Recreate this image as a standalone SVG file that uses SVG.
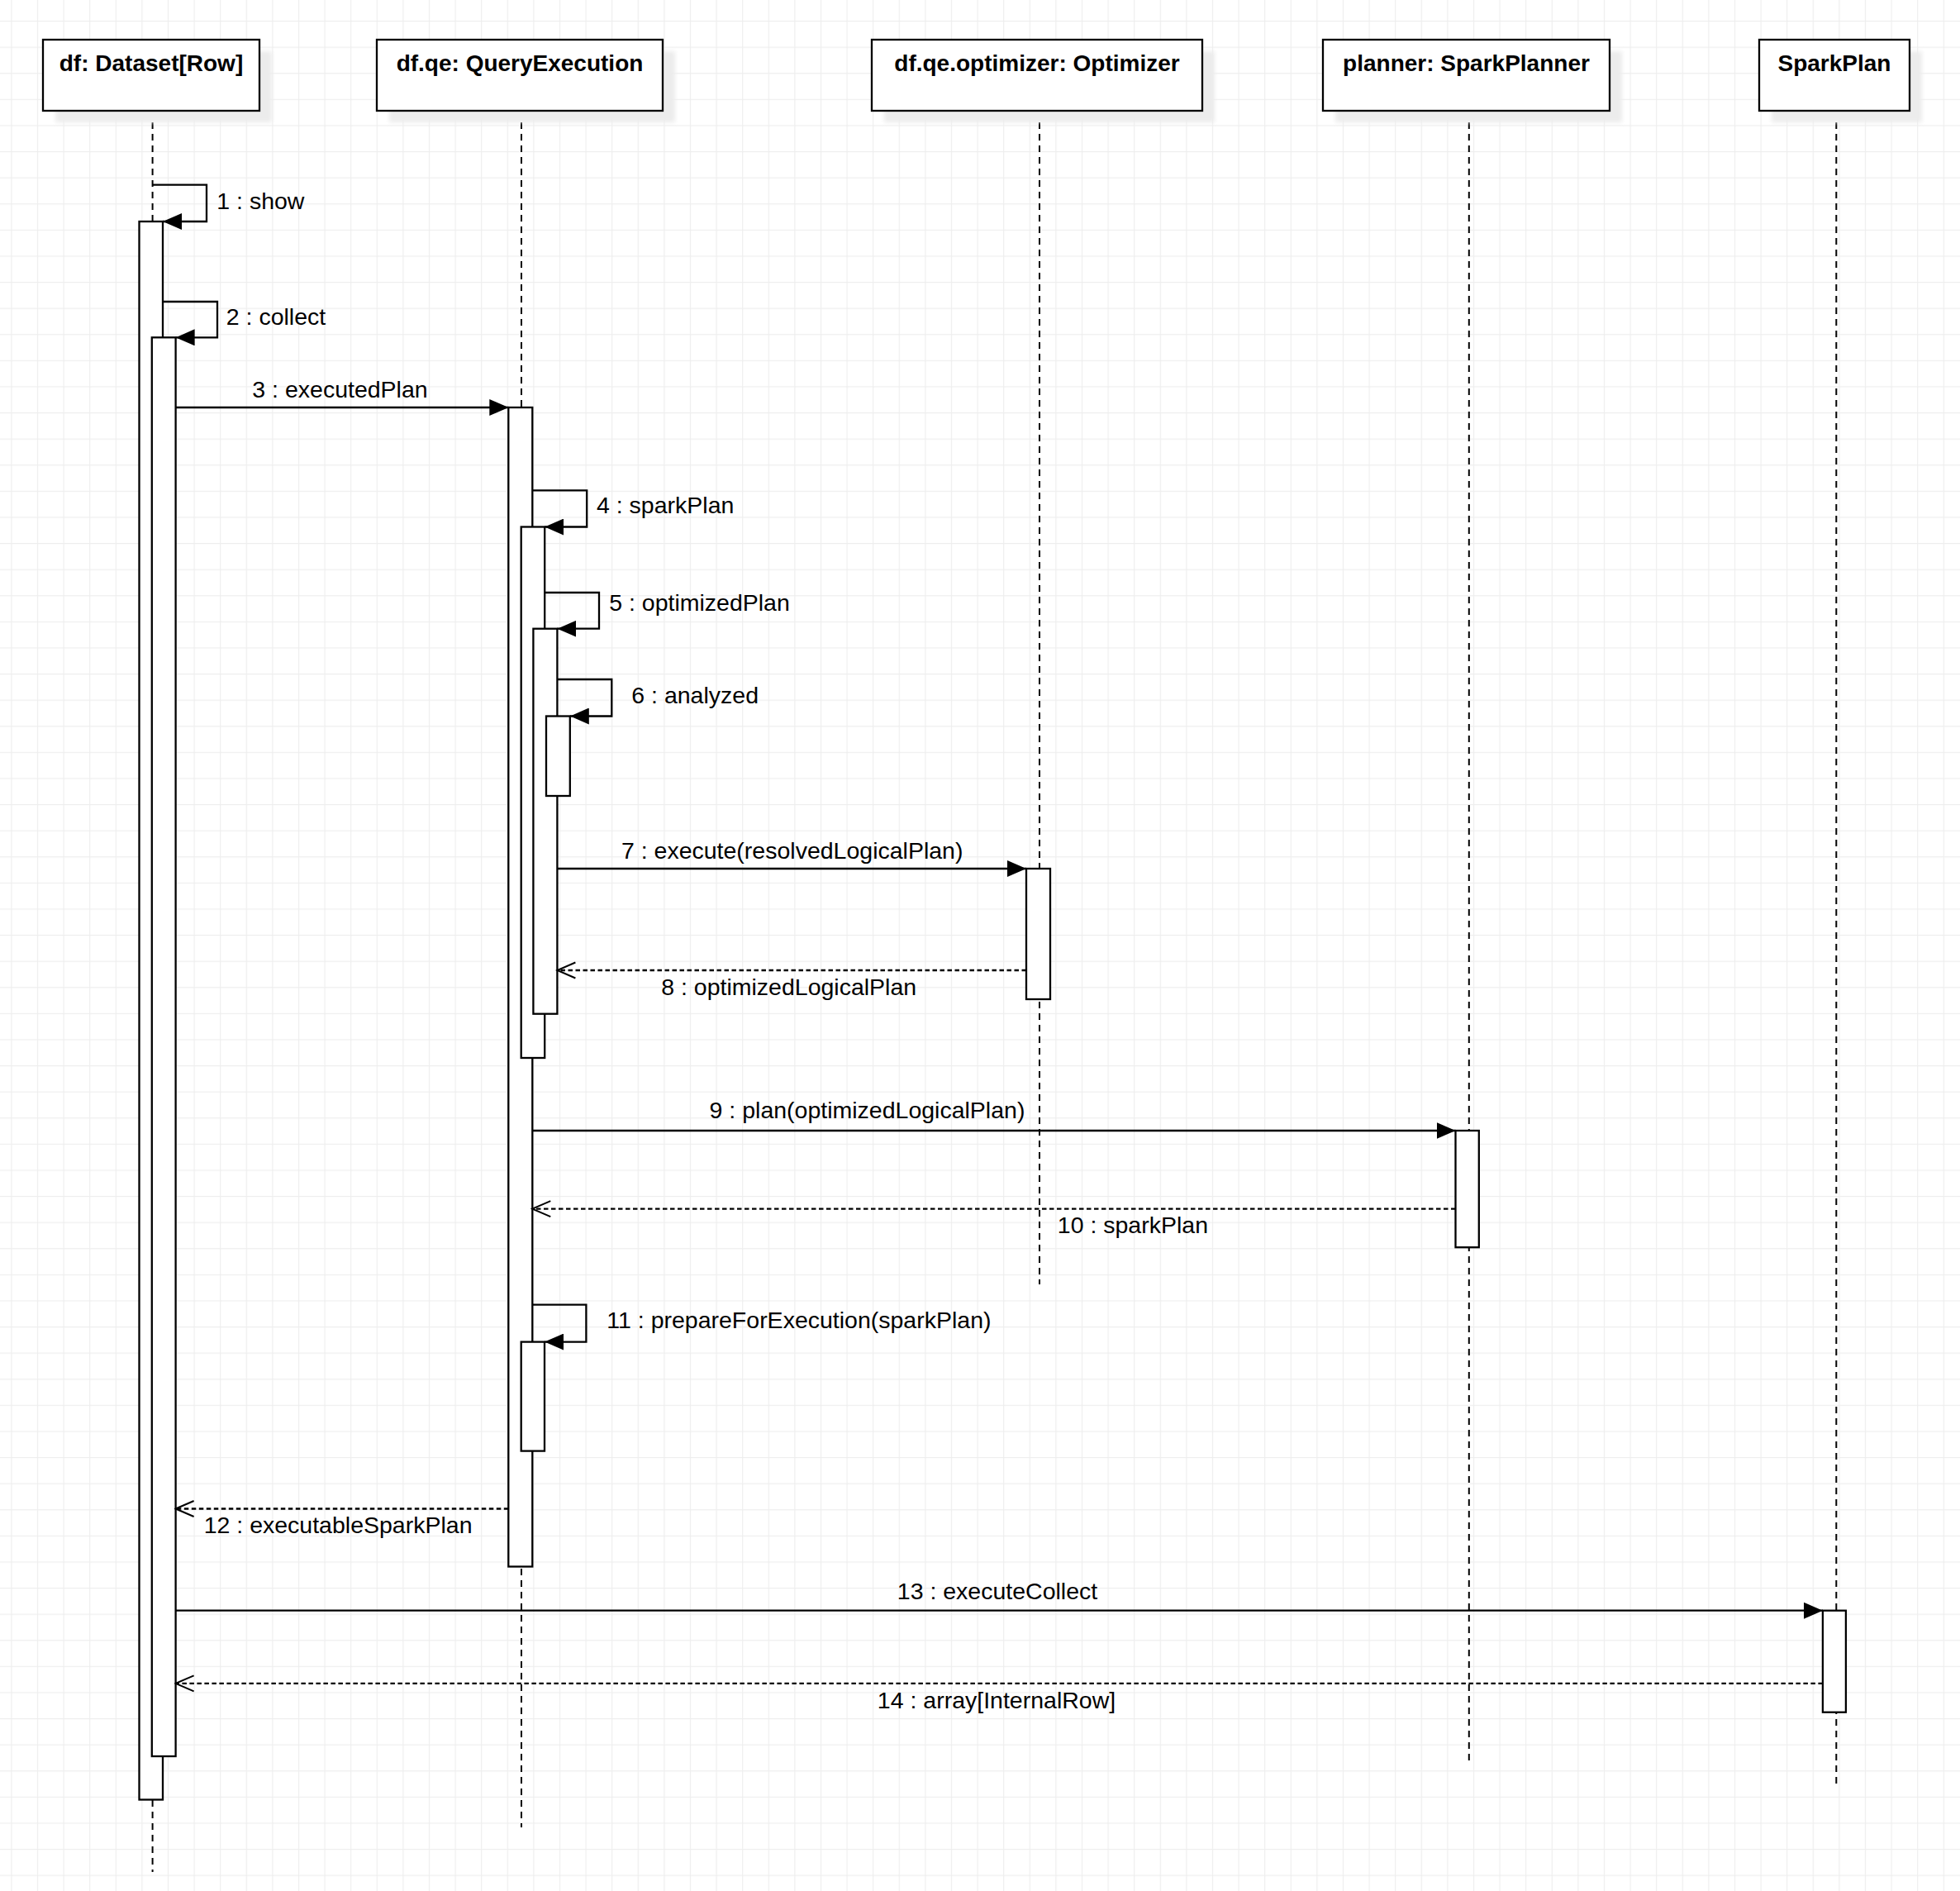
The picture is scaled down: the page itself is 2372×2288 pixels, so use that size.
<svg xmlns="http://www.w3.org/2000/svg" width="2372" height="2288" viewBox="0 0 2372 2288">
  <defs>
    <pattern id="grid" x="13.3" y="25" width="31.6" height="31.6" patternUnits="userSpaceOnUse">
      <rect x="0" y="0" width="1.2" height="31.6" fill="#eeeeee"/>
      <rect x="0" y="0" width="31.6" height="1.2" fill="#eeeeee"/>
    </pattern>
    <filter id="blur" x="-10%" y="-10%" width="120%" height="130%">
      <feGaussianBlur stdDeviation="2.5"/>
    </filter>
    <marker id="filled" viewBox="0 0 23 20" refX="23" refY="10" markerWidth="23" markerHeight="20" markerUnits="userSpaceOnUse" orient="auto">
      <path d="M0,0 L23,10 L0,20 Z" fill="#000"/>
    </marker>
    <marker id="open" viewBox="-2 -2 26 24" refX="22" refY="9.5" markerWidth="26" markerHeight="24" markerUnits="userSpaceOnUse" orient="auto">
      <path d="M0,0 L22,9.5 L0,19" fill="none" stroke="#000" stroke-width="2"/>
    </marker>
  </defs>
  <style>
    .head { fill: #fff; stroke: #000; stroke-width: 2.3; }
    .shadow { fill: #ececec; filter: url(#blur); }
    .htext { font-family: "Liberation Sans", Arial, sans-serif; font-weight: bold; font-size: 28px; fill: #000; text-anchor: middle; }
    .life { stroke: #000; stroke-width: 2; stroke-dasharray: 8 6; fill: none; }
    .bar { fill: #fff; stroke: #000; stroke-width: 2.3; }
    .msg { fill: none; stroke: #000; stroke-width: 2.3; marker-end: url(#filled); }
    .ret { fill: none; stroke: #000; stroke-width: 2.3; stroke-dasharray: 5.5 3.5; marker-end: url(#open); }
    .lbl { font-family: "Liberation Sans", Arial, sans-serif; font-size: 28.5px; fill: #000; }
    .mid { text-anchor: middle; }
  </style>

  <rect x="0" y="0" width="2372" height="2288" fill="#ffffff"/>
  <rect x="0" y="0" width="2372" height="2288" fill="url(#grid)"/>

  <!-- Lifelines -->
  <g id="lifelines">
    <line class="life" x1="184.6" y1="134" x2="184.6" y2="2265"/>
    <line class="life" x1="631" y1="134" x2="631" y2="2211"/>
    <line class="life" x1="1258" y1="134" x2="1258" y2="1554"/>
    <line class="life" x1="1777.8" y1="134" x2="1777.8" y2="2135"/>
    <line class="life" x1="2222.3" y1="134" x2="2222.3" y2="2159"/>
  </g>

  <!-- Header nodes -->
  <g id="node-df">
    <rect class="shadow" x="67" y="62" width="262" height="86"/>
    <rect class="head" x="52" y="48" width="262" height="86"/>
    <text class="htext" x="183" y="85.5">df: Dataset[Row]</text>
  </g>
  <g id="node-qe">
    <rect class="shadow" x="471" y="62" width="346" height="86"/>
    <rect class="head" x="456" y="48" width="346" height="86"/>
    <text class="htext" x="629" y="85.5">df.qe: QueryExecution</text>
  </g>
  <g id="node-optimizer">
    <rect class="shadow" x="1070" y="62" width="400" height="86"/>
    <rect class="head" x="1055" y="48" width="400" height="86"/>
    <text class="htext" x="1255" y="85.5">df.qe.optimizer: Optimizer</text>
  </g>
  <g id="node-planner">
    <rect class="shadow" x="1616" y="62" width="347" height="86"/>
    <rect class="head" x="1601" y="48" width="347" height="86"/>
    <text class="htext" x="1774.5" y="85.5">planner: SparkPlanner</text>
  </g>
  <g id="node-sparkplan">
    <rect class="shadow" x="2144" y="62" width="182" height="86"/>
    <rect class="head" x="2129" y="48" width="182" height="86"/>
    <text class="htext" x="2220" y="85.5">SparkPlan</text>
  </g>

  <!-- Activation bars -->
  <g id="activations">
    <rect id="act-df-show" class="bar" x="168.5" y="268" width="28.5" height="1909.5"/>
    <rect id="act-df-collect" class="bar" x="183.8" y="408.3" width="28.8" height="1716.7"/>
    <rect id="act-qe-executedPlan" class="bar" x="615.3" y="493" width="29" height="1402.5"/>
    <rect id="act-qe-sparkPlan" class="bar" x="630.7" y="637.5" width="28.5" height="642.5"/>
    <rect id="act-qe-optimizedPlan" class="bar" x="645.4" y="760.7" width="29" height="466"/>
    <rect id="act-qe-analyzed" class="bar" x="661" y="866.5" width="28.8" height="96.5"/>
    <rect id="act-opt-execute" class="bar" x="1242" y="1051" width="29" height="158"/>
    <rect id="act-planner-plan" class="bar" x="1761.5" y="1368" width="28.3" height="141.2"/>
    <rect id="act-qe-prepare" class="bar" x="630.7" y="1623.6" width="28.3" height="132"/>
    <rect id="act-sparkplan-collect" class="bar" x="2205.9" y="1948.7" width="28" height="123"/>
  </g>

  <!-- Connectors -->
  <g id="connectors">
    <path class="msg" d="M184.6,223.7 H250 V268 H197"/>
    <path class="msg" d="M197,365 H263 V408.3 H212.6"/>
    <path class="msg" d="M212.6,493 H615.3"/>
    <path class="msg" d="M644.3,593.3 H710.2 V637.5 H659.2"/>
    <path class="msg" d="M659.2,717 H725 V760.7 H674.4"/>
    <path class="msg" d="M674.4,822 H740.3 V866.5 H689.8"/>
    <path class="msg" d="M674.4,1051 H1242"/>
    <path class="ret" d="M1242,1174 H674.4"/>
    <path class="msg" d="M644.3,1368 H1761.5"/>
    <path class="ret" d="M1761.5,1462.6 H644.3"/>
    <path class="msg" d="M644.3,1578.7 H709.4 V1623.6 H659"/>
    <path class="ret" d="M615.3,1825.5 H212.6"/>
    <path class="msg" d="M212.6,1948.7 H2205.9"/>
    <path class="ret" d="M2205.9,2036.8 H212.6"/>
  </g>

  <!-- Message labels -->
  <g id="labels">
    <text class="lbl" x="262.3" y="253">1 : show</text>
    <text class="lbl" x="273.8" y="393">2 : collect</text>
    <text class="lbl mid" x="411.5" y="481">3 : executedPlan</text>
    <text class="lbl" x="722" y="621.4">4 : sparkPlan</text>
    <text class="lbl" x="737.2" y="738.8">5 : optimizedPlan</text>
    <text class="lbl" x="764.3" y="851.3">6 : analyzed</text>
    <text class="lbl mid" x="958.7" y="1038.8">7 : execute(resolvedLogicalPlan)</text>
    <text class="lbl mid" x="954.7" y="1204">8 : optimizedLogicalPlan</text>
    <text class="lbl" x="858.6" y="1352.8">9 : plan(optimizedLogicalPlan)</text>
    <text class="lbl" x="1279.8" y="1492">10 : sparkPlan</text>
    <text class="lbl" x="734.3" y="1607">11 : prepareForExecution(sparkPlan)</text>
    <text class="lbl" x="246.7" y="1854.6">12 : executableSparkPlan</text>
    <text class="lbl mid" x="1207" y="1935.2">13 : executeCollect</text>
    <text class="lbl mid" x="1206" y="2067.3">14 : array[InternalRow]</text>
  </g>
</svg>
